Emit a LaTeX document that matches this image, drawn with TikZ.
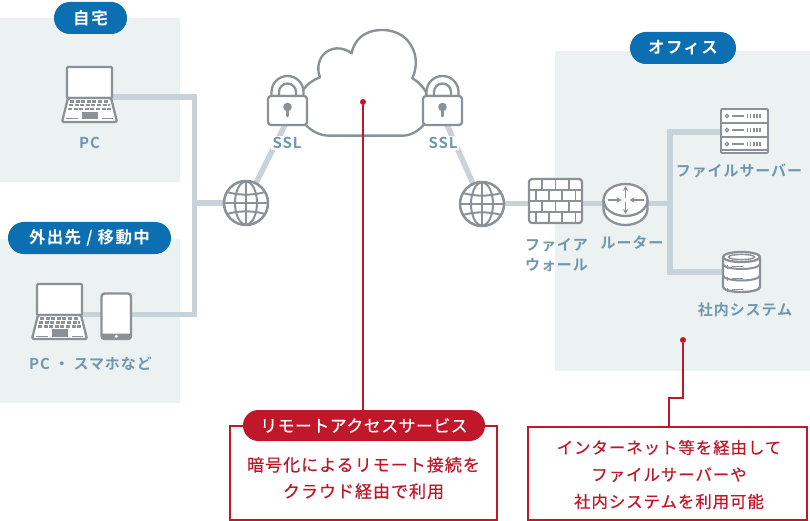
\documentclass[tikz,border=0pt]{standalone}
\usepackage{fontspec}
\usetikzlibrary{arrows.meta}
\newfontfamily\jpm[LetterSpace=6,FakeBold=0.5]{Noto Sans CJK JP}
\newfontfamily\jps[LetterSpace=8]{Noto Sans CJK JP Bold}
\newfontfamily\jpb[LetterSpace=6]{Noto Sans CJK JP Bold}
\newfontfamily\jpr[LetterSpace=3,FakeBold=0.5]{Noto Sans CJK JP}
\definecolor{panel}{HTML}{ECF1F2}
\definecolor{wirec}{HTML}{C8D3D9}
\definecolor{icon}{HTML}{8A9297}
\definecolor{bluep}{HTML}{0B6FB2}
\definecolor{redc}{HTML}{C0172B}
\definecolor{labelc}{HTML}{6F97AD}
\tikzset{
  panelbox/.style={fill=panel,draw=none},
  wire/.style={draw=wirec,line width=5.5pt,line join=miter},
  redline/.style={draw=redc,line width=1.8pt},
  pinhead/.style={circle,fill=redc,inner sep=0,minimum size=6pt},
  pill/.style={fill=bluep,text=white,rounded corners=15.9pt,minimum height=32pt,inner sep=0,font=\jps\fontsize{16.5}{16.5}\selectfont},
  redpill/.style={fill=redc,text=white,rounded corners=15.4pt,minimum height=31pt,inner sep=0,font=\jpr\fontsize{16.9}{16.9}\selectfont},
  redbox/.style={draw=redc,line width=1.8pt,fill=white,inner sep=0},
  redtext/.style={text=redc,align=center,inner sep=0,font=\jpm\fontsize{17}{26.5}\selectfont},
  redtextb/.style={text=redc,align=center,inner sep=0,font=\jpm\fontsize{16.4}{27}\selectfont},
  bluetext/.style={text=labelc,align=center,inner sep=0,font=\jpb\fontsize{15}{20}\selectfont},
  iconline/.style={draw=icon,line width=2.3pt,fill=white,line join=round},
  laptopicon/.pic={
    \draw[iconline,rounded corners=1pt] (0,0) rectangle (45,31);
    \draw[iconline,rounded corners=1.5pt] (1,31) -- (44,31) -- (50,55) -- (-5,55) -- cycle;
    \draw[icon,line width=2.8pt,dash pattern=on 4pt off 1.6pt] (3,34.5) -- (42,34.5);
    \draw[icon,line width=2.4pt,dash pattern=on 4pt off 1.6pt] (2,38.3) -- (43,38.3);
    \draw[icon,line width=2.6pt,dash pattern=on 4pt off 1.6pt] (1,42.2) -- (44,42.2);
    \fill[icon] (15,45) rectangle (31,52.5);
    \draw[icon,line width=1pt] (-1,52) -- (11,52) (35,52) -- (46,52);
  },
  globeicon/.pic={
    \draw[iconline,line width=2.5pt] (0,0) circle (22);
    \draw[icon,line width=2pt] (0,0) ellipse (11 and 21.5);
    \draw[icon,line width=2pt] (0,-22) -- (0,22) (-22,0) -- (22,0);
    \draw[icon,line width=2pt] (-19,-11) .. controls (-8,-7.5) and (8,-7.5) .. (19,-11);
    \draw[icon,line width=2pt] (-19,11) .. controls (-8,7.5) and (8,7.5) .. (19,11);
  },
  lockicon/.pic={
    \draw[iconline] (-16,0) -- (-16,-4) arc[start angle=180,end angle=360,radius=16] -- (16,0) -- cycle;
    \draw[icon,line width=2.3pt] (-8.5,0) -- (-8.5,-4) arc[start angle=180,end angle=360,radius=8.5] -- (8.5,0);
    \draw[iconline,rounded corners=3pt] (-19.5,0) rectangle (19.5,29);
    \fill[icon] (0,11) circle (4.3);
    \draw[icon,line width=3pt,line cap=round] (0,12) -- (0,20);
  },
  firewallicon/.pic={
    \draw[iconline,rounded corners=3pt] (0,44) -- (0,0) -- (53,0) -- (53,44) -- cycle;
    \foreach \y in {11,22,33}{\draw[icon,line width=1.8pt] (0,\y) -- (53,\y);}
    \foreach \x in {13.2,26.5,39.8}{\draw[icon,line width=1.8pt] (\x,0) -- (\x,11) (\x,22) -- (\x,33);}
    \foreach \x in {6.6,19.9,33.1,46.4}{\draw[icon,line width=1.8pt] (\x,11) -- (\x,22) (\x,33) -- (\x,44);}
  },
  routericon/.pic={
    \draw[iconline] (-22,0) -- (-22,9) arc[start angle=180,end angle=0,x radius=22,y radius=16] -- (22,0);
    \draw[iconline] (0,0) ellipse (22 and 16);
    \draw[icon,line width=1.7pt,-{Stealth[length=5pt,width=5.5pt]}] (0,-2) -- (0,-14);
    \draw[icon,line width=1.7pt,-{Stealth[length=5pt,width=5.5pt]}] (0,2) -- (0,14);
    \draw[icon,line width=1.7pt,-{Stealth[length=5pt,width=5.5pt]}] (-18,0) -- (-4,0);
    \draw[icon,line width=1.7pt,-{Stealth[length=5pt,width=5.5pt]}] (18,0) -- (4,0);
  },
  servericon/.pic={
    \draw[iconline,line width=1.8pt,rounded corners=1pt] (0,0) rectangle (47,44);
    \draw[icon,line width=1.4pt] (0,14) -- (47,14) (0,28) -- (47,28) (0,41) -- (47,41);
    \foreach \y in {7,21,35}{
      \draw[icon,line width=1.2pt] (6,\y) circle (1.7);
      \draw[icon,line width=1.8pt] (11,\y) -- (23,\y);
      \draw[icon,line width=3.5pt,dash pattern=on 1.3pt off 1.8pt] (26,\y) -- (41,\y);
    }
  },
  dbicon/.pic={
    \draw[iconline] (-18.5,0) -- (-18.5,30) arc[start angle=180,end angle=0,x radius=18.5,y radius=5] -- (18.5,0);
    \draw[iconline] (0,0) ellipse (18.5 and 5);
    \draw[icon,line width=1.4pt] (0,0) ellipse (13 and 2.6);
    \foreach \y in {7,18.5}{\draw[icon,line width=2pt] (-18.5,\y) arc[start angle=180,end angle=0,x radius=18.5,y radius=5];}
    \foreach \y in {8,20,31}{
      \draw[icon,line width=1pt] (-14,\y) -- (-14,\y+3.5);
      \draw[icon,line width=1pt] (-10,\y+1.5) -- (1,\y+1.5);
    }
  },
}
\begin{document}
\begin{tikzpicture}[x=1pt,y=-1pt]
\useasboundingbox (0,0) rectangle (810,521);
% panels
\fill[panelbox] (0,18) rectangle (180,182);
\fill[panelbox] (0,239) rectangle (180,403);
\fill[panelbox] (555,51) rectangle (810,371);
% anchor points
\coordinate (pc) at (112,97);
\coordinate (corner1) at (194.5,97);
\coordinate (mobile) at (60,314.5);
\coordinate (corner2) at (194.5,314.5);
\coordinate (globeA) at (246,203);
\coordinate (globeB) at (482,204);
\coordinate (junctionA) at (194.5,203);
\coordinate (lockA) at (287.5,96);
\coordinate (lockB) at (442.5,96);
\coordinate (lockAfoot) at (285,125);
\coordinate (lockBfoot) at (447,125);
\coordinate (fw) at (529,179);
\coordinate (router) at (625.5,200);
\coordinate (junctionB) at (670,203.5);
\coordinate (srv) at (721,109);
\coordinate (srvport) at (721,132);
\coordinate (corner3) at (670,132);
\coordinate (db) at (741.5,257);
\coordinate (corner4) at (670,272);
\coordinate (dbport) at (723,272);
% connectors
\draw[wire] (pc) -- (corner1) -- (corner2) -- (mobile);
\draw[wire] (junctionA) -- (globeA);
\draw[wire] (globeA) -- (lockAfoot);
\draw[wire] (globeB) -- (lockBfoot);
\draw[wire] (globeB |- junctionB) -- (junctionB);
\draw[wire] (srvport) -- (corner3) -- (corner4) -- (dbport);
% cloud
\draw[draw=icon,line width=2.4pt,fill=white,line join=round]
  (303,122) .. controls (310,130) and (318,135.7) .. (330,135.7) -- (402,135.7)
  .. controls (412,135.7) and (420,130) .. (426,122) -- (426,92)
  .. controls (422,85) and (417,81) .. (412.3,78.3)
  .. controls (418,66) and (417,52) .. (408,41)
  .. controls (398,29) and (378,27) .. (365,34)
  .. controls (358,38) and (353,45) .. (351.7,53.3)
  .. controls (342,46) and (330,47) .. (323,55)
  .. controls (318,61) and (317,70) .. (320,77.3)
  .. controls (313,80) and (307,84) .. (303,90) -- cycle;
% icons
\pic at (67,67) {laptopicon};
\pic at (37,284) {laptopicon};
\draw[iconline,line width=2.4pt,rounded corners=3pt] (101.5,293.5) rectangle (131,339);
\fill[icon,rounded corners=1pt] (101.5,333.5) rectangle (131,339);
\fill[white] (116.2,336.3) circle (1.7);
\pic at (globeA) {globeicon};
\pic at (globeB) {globeicon};
\pic at (lockA) {lockicon};
\pic at (lockB) {lockicon};
\pic at (fw) {firewallicon};
\pic at (router) {routericon};
\pic at (srv) {servericon};
\pic at (db) {dbicon};
% pills
\node[pill,minimum width=73pt] (home) at (90.5,18) {自\hspace{2pt}宅};
\node[pill,minimum width=163pt] (away) at (89.5,238) {外出先 / 移動中};
\node[pill,minimum width=106pt] (office) at (683,48) {オフィス};
% labels
\node[bluetext] (pclabel) at (89.5,143) {PC};
\node[bluetext] (mobilelabel) at (90.5,364) {PC ・ スマホなど};
\node[bluetext,fill=white,inner xsep=2pt,inner ysep=1pt] (sslA) at (287,143) {SSL};
\node[bluetext,fill=white,inner xsep=2pt,inner ysep=1pt] (sslB) at (443,143) {SSL};
\node[bluetext] (fwlabel) at (556.5,255) {ファイア\\ウォール};
\node[bluetext] (routerlabel) at (632,243) {ルーター};
\node[bluetext] (srvlabel) at (739,171) {ファイルサーバー};
\node[bluetext] (dblabel) at (745,310) {社内システム};
% red call-outs
\node[redbox,minimum width=267pt,minimum height=94pt] (boxA) at (363.5,473) {};
\node[redbox,minimum width=279pt,minimum height=93pt] (boxB) at (667.5,473.5) {};
\node[redpill,minimum width=242pt] (service) at (364,425.5) {リモートアクセスサービス};
\node[pinhead] (pinA) at (363,102) {};
\node[pinhead] (pinB) at (683,340) {};
\coordinate (elbow) at (669,398);
\draw[redline] (pinA) -- (pinA |- service.north);
\draw[redline] (pinB) |- (elbow) -- (elbow |- boxB.north);
\node[redtext] (boxAtext) at (363.5,478) {暗号化によるリモート接続を\\クラウド経由で利用};
\node[redtextb] (boxBtext) at (669,474.5) {インターネット等を経由して\\ファイルサーバーや\\社内システムを利用可能};
\end{tikzpicture}
\end{document}
